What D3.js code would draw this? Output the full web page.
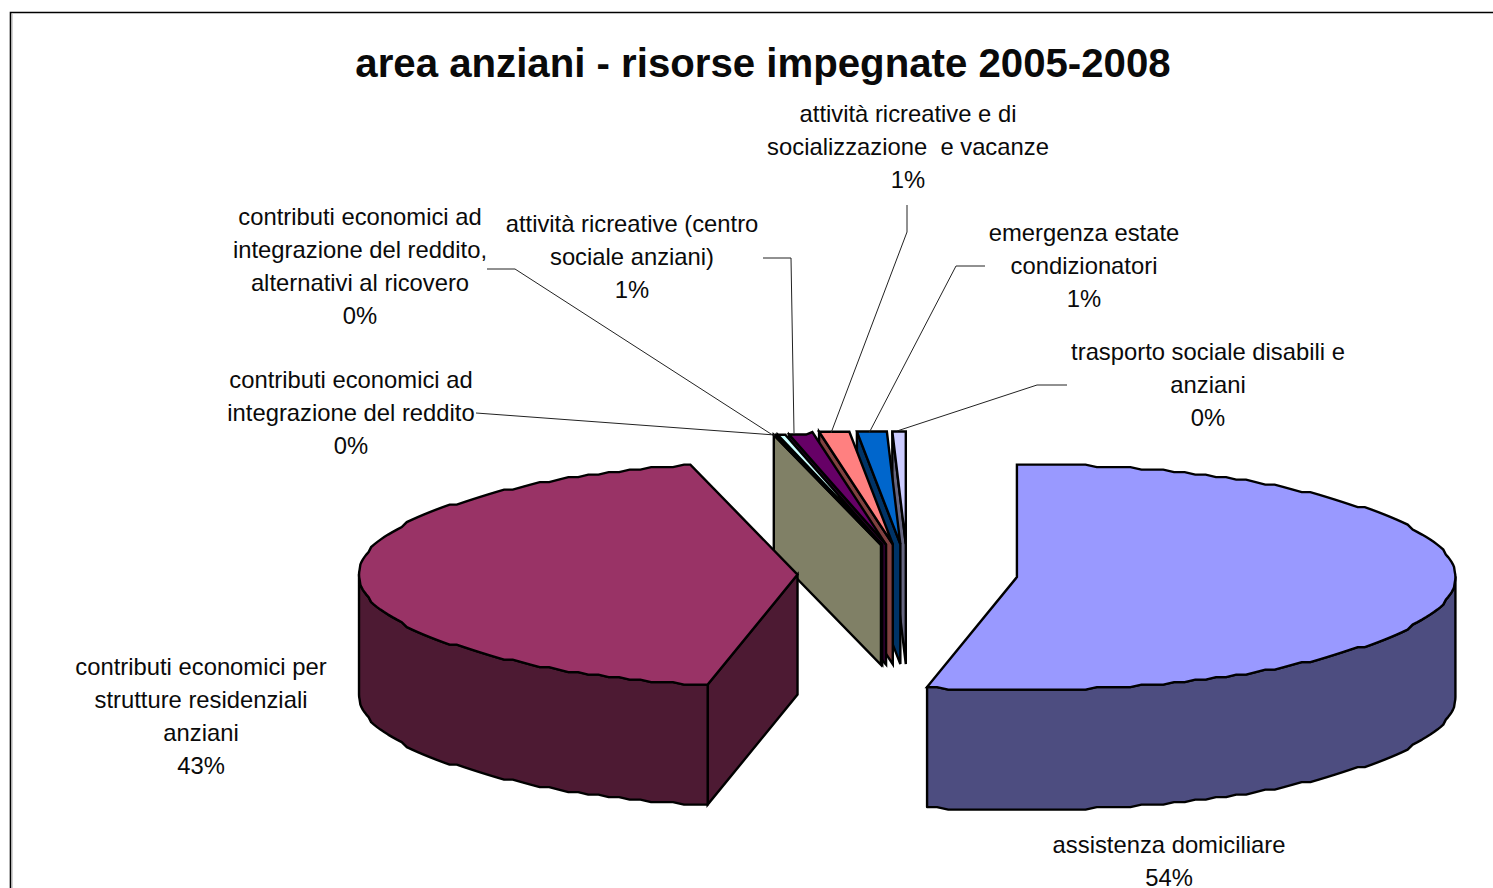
<!DOCTYPE html>
<html>
<head>
<meta charset="utf-8">
<script src="https://cdn.jsdelivr.net/npm/d3@7/dist/d3.min.js"></script>
<style>
html,body{margin:0;padding:0;background:#fff;overflow:hidden}
svg{display:block}
text{font-family:"Liberation Sans",Arial,sans-serif;fill:#0a0a0a}
</style>
</head>
<body>
<svg id="chart" width="1493" height="888"></svg>
<script>
// ---- data ----
const categories = [
  "assistenza domiciliare",
  "contributi economici per strutture residenziali anziani",
  "contributi economici ad integrazione del reddito",
  "contributi economici ad integrazione del reddito, alternativi al ricovero",
  "attività ricreative (centro sociale anziani)",
  "attività ricreative e di socializzazione  e vacanze",
  "emergenza estate condizionatori",
  "trasporto sociale disabili e anziani"
];
const values = [53.3, 42.8, 0.1, 0.28, 0.86, 1.11, 1.09, 0.49];
const percentLabels = ["54%", "43%", "0%", "0%", "1%", "1%", "1%", "0%"];
const labelLines = [
  ["assistenza domiciliare"],
  ["contributi economici per", "strutture residenziali", "anziani"],
  ["contributi economici ad", "integrazione del reddito"],
  ["contributi economici ad", "integrazione del reddito,", "alternativi al ricovero"],
  ["attività ricreative (centro", "sociale anziani)"],
  ["attività ricreative e di", "socializzazione  e vacanze"],
  ["emergenza estate", "condizionatori"],
  ["trasporto sociale disabili e", "anziani"]
];
const titleText = "area anziani - risorse impegnate 2005-2008";

// ---- styles / layout ----
const topColors  = ["#9999FF","#993366","#FFFFCC","#CCFFFF","#660066","#FF8080","#0066CC","#CCCCFF"];
const sideColors = ["#4D4D80","#4D1A33","#808066","#668080","#330033","#804040","#003366","#666680"];
const labelCenters = [[1169,845],[201,667],[351,380],[360,217],[632,224],[908,114],[1084,233],[1208,352]];
const leaderPaths = [
  null, null,
  [[476,413],[775,435]],
  [[487,269],[515,269],[771,434]],
  [[763,258],[791,258],[794,433]],
  [[907,205],[907,232],[831,433]],
  [[985,266],[956,266],[869,433]],
  [[1067,385],[1037,385],[897,431]]
];
const C = {x:907.5, y:574}, RX = 438.5, RY = 113, EX = 110, EY = 30, DEPTH = 120;
const GY = 2.5, STEP = 1.5 * Math.PI / 180;
const LABEL_SIZE = 23.8, LINE_H = 33;

const svg = d3.select("#chart");

// frame
svg.append("path").attr("d","M10.5 888V12.5H1493").attr("fill","none").attr("stroke","#000").attr("stroke-width",1.6);
svg.append("path").attr("d","M12 888V14").attr("fill","none").attr("stroke","#aaa").attr("stroke-width",1);

// pie layout
const arcs = d3.pie().sort(null).value(d => d)(values);
const color = d3.scaleOrdinal().domain(d3.range(values.length)).range(topColors);
const side  = d3.scaleOrdinal().domain(d3.range(values.length)).range(sideColors);
const line = d3.line().x(d => d[0]).y(d => d[1]);

function apex(a){
  const m = (a.startAngle + a.endAngle) / 2;
  return [C.x + EX * Math.sin(m), C.y - EY * Math.cos(m)];
}
// rim sampled on one fixed angular grid so the face and the wall share their vertices
function rimPoints(a, t0, t1){
  const o = apex(a);
  const first = Math.ceil(t0 / STEP + 1e-6), last = Math.floor(t1 / STEP - 1e-6);
  const ts = [t0].concat(d3.range(first, last + 1).map(k => k * STEP), [t1]);
  return ts.map(t => [o[0] + RX * Math.sin(t), o[1] + Math.round(-RY * Math.cos(t) / GY) * GY]);
}
const down = p => [p[0], p[1] + DEPTH];
const sw = 2.4;

function drawSlice(a){
  const i = a.index, o = apex(a), g = svg.append("g");
  const s0 = a.startAngle, s1 = a.endAngle;
  const rim = rimPoints(a, s0, s1);
  if (Math.sin(s0) < -1e-6) {
    const e = rim[0];
    g.append("path").attr("d", line([o, e, down(e), down(o)]) + "Z")
      .attr("fill", side(i)).attr("stroke","#000").attr("stroke-width",sw).attr("stroke-linejoin","miter");
  }
  const f0 = Math.max(s0, Math.PI / 2), f1 = Math.min(s1, 3 * Math.PI / 2);
  if (f1 > f0) {
    const r = rimPoints(a, f0, f1);
    g.append("path").attr("d", line(r.concat(r.map(down).reverse())) + "Z")
      .attr("fill", side(i)).attr("stroke","#000").attr("stroke-width",sw).attr("stroke-linejoin","round");
  }
  g.append("path").attr("d", line([o].concat(rim)) + "Z")
    .attr("fill", color(i)).attr("stroke","#000").attr("stroke-width",sw).attr("stroke-linejoin","miter");
}

// back to front: small slices right to left, then the two large ones
[7,6,5,4,3,2,1,0].forEach(i => drawSlice(arcs[i]));

// leader lines
leaderPaths.forEach(p => {
  if (p) svg.append("path").attr("d", line(p)).attr("fill","none").attr("stroke","#222").attr("stroke-width",1);
});

// labels
categories.forEach((c, i) => {
  const [cx, cy] = labelCenters[i];
  const lines = labelLines[i].concat(percentLabels[i]);
  const t = svg.append("text").attr("text-anchor","middle").attr("font-size",LABEL_SIZE);
  lines.forEach((l, k) => {
    t.append("tspan").attr("x",cx).attr("y",cy + 8 + k * LINE_H).style("white-space","pre").text(l);
  });
});

// title
svg.append("text").attr("x",763).attr("y",76.5).attr("text-anchor","middle")
  .attr("font-size",40.2).attr("font-weight","bold").text(titleText);
</script>
</body>
</html>
